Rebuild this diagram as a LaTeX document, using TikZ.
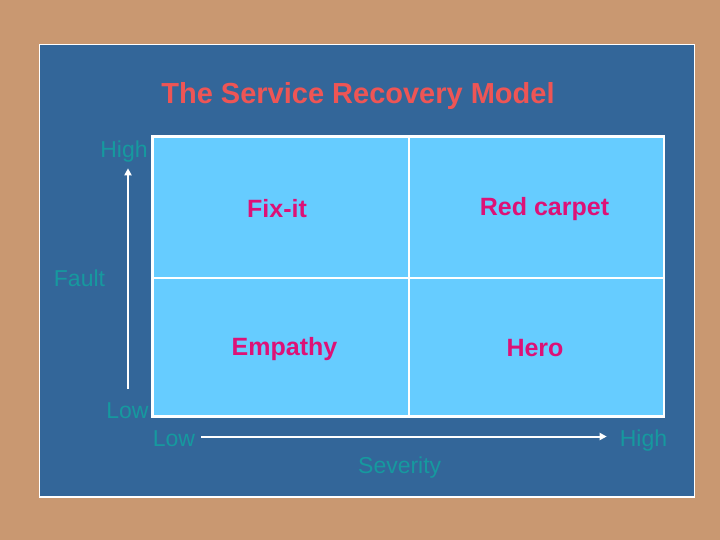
\documentclass[tikz,border=0pt]{standalone}
\usepackage{fontspec}
\setmainfont{Liberation Sans}
\usetikzlibrary{arrows.meta}
\definecolor{cork}{HTML}{C99871}
\definecolor{panel}{HTML}{336699}
\definecolor{quad}{HTML}{66CCFF}
\definecolor{titlered}{HTML}{EE5555}
\definecolor{qtext}{HTML}{DD1177}
\definecolor{axlab}{HTML}{16999F}
\begin{document}
\begin{tikzpicture}[x=1pt,y=-1pt,
  titlestyle/.style={inner sep=0pt,anchor=base,text=titlered,font=\fontsize{29}{29}\selectfont\bfseries},
  quadtext/.style={inner sep=0pt,anchor=base,text=qtext,font=\fontsize{25}{25}\selectfont\bfseries},
  axislabel/.style={inner sep=0pt,anchor=base,text=axlab,font=\fontsize{23}{23}\selectfont},
  axisarrow/.style={draw=white,line width=2pt,-{Triangle[length=7pt,width=7pt]}},
  gridline/.style={draw=white,line width=2.5pt}]
\useasboundingbox (0,0) rectangle (720,540);
\fill[cork] (0,0) rectangle (720,540);
\draw[white,line width=1.5pt,fill=panel] (39.3,44.7) rectangle (694.3,497);
% quadrant grid
\fill[quad] (152.7,136.7) rectangle (664,416.7);
\draw[gridline] (152.7,136.7) rectangle (664,416.7);
\draw[gridline] (409,136.7) -- (409,416.7);
\draw[gridline] (152.7,278) -- (664,278);
% title
\node[titlestyle] (title) at (358,103.3) {The Service Recovery Model};
% quadrant labels
\node[quadtext] (fixit) at (277,217.7) {Fix-it};
\node[quadtext] (redcarpet) at (544.5,215) {Red carpet};
\node[quadtext] (empathy) at (284.5,355.7) {Empathy};
\node[quadtext] (hero) at (535,356.7) {Hero};
% axis labels
\node[axislabel] (yhigh) at (124,157.3) {High};
\node[axislabel] (fault) at (79.5,286.7) {Fault};
\node[axislabel] (ylow) at (127.5,418.3) {Low};
\node[axislabel] (xlow) at (174,446) {Low};
\node[axislabel] (xhigh) at (643.5,446.7) {High};
\node[axislabel] (severity) at (399.7,473) {Severity};
% axes
\coordinate (vstart) at (128,389);
\coordinate (vend) at (128,168.3);
\coordinate (hstart) at (201,436.5);
\coordinate (hend) at (606.7,436.5);
\draw[axisarrow] (vstart) -- (vend);
\draw[axisarrow] (hstart) -- (hend);
\end{tikzpicture}
\end{document}
